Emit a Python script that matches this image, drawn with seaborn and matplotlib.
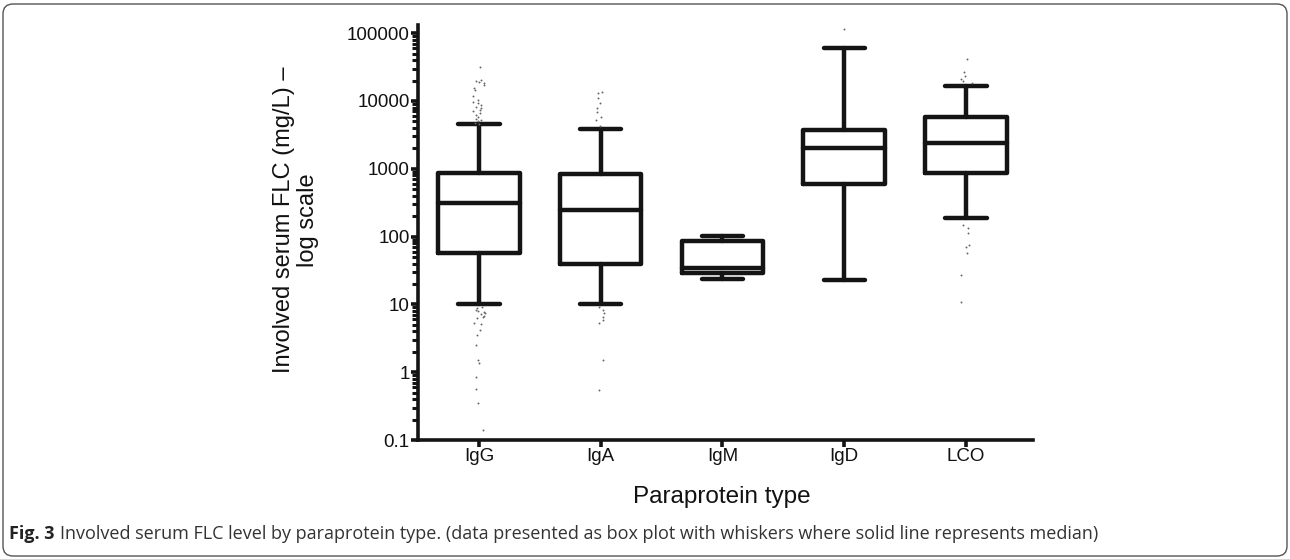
import numpy as np
import pandas as pd
import seaborn as sns
import matplotlib.pyplot as plt
from matplotlib.patches import FancyBboxPatch
from matplotlib.ticker import FixedLocator, LogLocator, NullFormatter

# box statistics (mg/L)
types = ["IgG", "IgA", "IgM", "IgD", "LCO"]
whisker_low = [10.3, 10.3, 23.5, 23.0, 186]
q1 = [58, 39, 29, 590, 855]
median = [310, 250, 34, 2000, 2430]
q3 = [860, 850, 87, 3700, 5800]
whisker_high = [4500, 3800, 103, 60000, 16500]

# individual points drawn outside the whiskers
igg_out = [32000, 20400, 19800, 19300, 18300, 17000, 15400, 14500, 12000, 10300,
           9800, 9250, 8700, 8240, 7800, 7360, 7000, 6570, 6200, 5860, 5500,
           5240, 5000, 4780, 4650,
           9.2, 8.8, 8.4, 8.0, 7.7, 7.4, 7.1, 6.8, 6.6, 6.3, 5.3, 5.1, 4.2,
           3.5, 2.5, 1.5, 1.35, 0.86, 0.56, 0.35, 0.14]
iga_out = [13500, 12900, 10900, 9250, 7800, 6950, 5860, 5240, 4300,
           9.2, 8.3, 7.5, 6.6, 5.8, 5.3, 1.5, 0.55]
igm_out = []
igd_out = [115000]
lco_out = [42000, 26500, 23000, 21000, 19500, 18500,
           150, 135, 113, 75, 71, 58, 27, 11]

y_ticks = [0.1, 1, 10, 100, 1000, 10000, 100000]
y_tick_labels = ["0.1", "1", "10", "100", "1000", "10000", "100000"]

sns.set_theme(style="ticks")
plt.rcParams["font.family"] = ["Liberation Sans", "DejaVu Sans"]

fig = plt.figure(figsize=(12.9, 5.59), dpi=100)
ax = fig.add_axes([418 / 1290, 1 - 440 / 559, 615 / 1290, 415 / 559])
ax.set_yscale("log")

outliers = pd.DataFrame({
    "type": (["IgG"] * len(igg_out) + ["IgA"] * len(iga_out) + ["IgM"] * len(igm_out)
             + ["IgD"] * len(igd_out) + ["LCO"] * len(lco_out)),
    "flc": igg_out + iga_out + igm_out + igd_out + lco_out,
})
np.random.seed(3)
sns.stripplot(data=outliers, x="type", y="flc", order=types, jitter=0.05,
              size=1.4, color="#666666", linewidth=0, ax=ax)

stats = []
for i, name in enumerate(types):
    stats.append(dict(label=name, whislo=whisker_low[i], q1=q1[i], med=median[i],
                      q3=q3[i], whishi=whisker_high[i], fliers=[]))
line = dict(color="#141414", linewidth=3.2, solid_capstyle="round",
            solid_joinstyle="round")
ax.bxp(stats, positions=range(len(types)), widths=0.67, capwidths=0.34,
       showfliers=False, manage_ticks=False,
       boxprops=line, whiskerprops=line, capprops=line, medianprops=line)

ax.set_xlim(-0.5, 4.55)
ax.set_ylim(0.1, 132000)
ax.set_xticks(range(len(types)))
ax.set_xticklabels(types, fontsize=13.5)
ax.yaxis.set_major_locator(FixedLocator(y_ticks))
ax.set_yticklabels(y_tick_labels, fontsize=13.5)
ax.yaxis.set_minor_locator(LogLocator(base=10, subs=np.arange(2, 10)))
ax.yaxis.set_minor_formatter(NullFormatter())
ax.set_xlabel("")
ax.set_ylabel("")

for side in ["left", "bottom"]:
    ax.spines[side].set_linewidth(2.6)
    ax.spines[side].set_color("#141414")
sns.despine(ax=ax)
ax.tick_params(axis="both", which="major", direction="out", length=5, width=2.6,
               color="#141414", labelcolor="#111111", pad=1)
ax.tick_params(axis="y", which="minor", direction="out", length=4, width=2.2,
               color="#141414")

fig.text(296 / 1290, 1 - 220 / 559, "Involved serum FLC (mg/L) \u2013\nlog scale",
         rotation=90, ha="center", va="center", fontsize=17, color="#111111",
         linespacing=1.15)
fig.text(722 / 1290, 1 - 497 / 559, "Paraprotein type", ha="center", va="center",
         fontsize=17.5, color="#111111")

# caption and rounded frame
cap_font = ["Open Sans", "DejaVu Sans"]
cap1 = fig.text(9 / 1290, 1 - 534 / 559, "Fig. 3", fontsize=13, fontweight="bold",
                family=cap_font, ha="left", va="center", color="#222222")
fig.canvas.draw()
bb = cap1.get_window_extent()
fig.text((bb.x1 + 5) / 1290, 1 - 534 / 559,
         "Involved serum FLC level by paraprotein type. (data presented as box plot "
         "with whiskers where solid line represents median)",
         fontsize=13, family=cap_font, ha="left", va="center", color="#333333")

frame = FancyBboxPatch((3, 3), 1284, 552, boxstyle="round,pad=0,rounding_size=10",
                       transform=None, fill=False, edgecolor="#555555", linewidth=1.0)
fig.patches.append(frame)

fig.savefig("out.png", dpi=100)
